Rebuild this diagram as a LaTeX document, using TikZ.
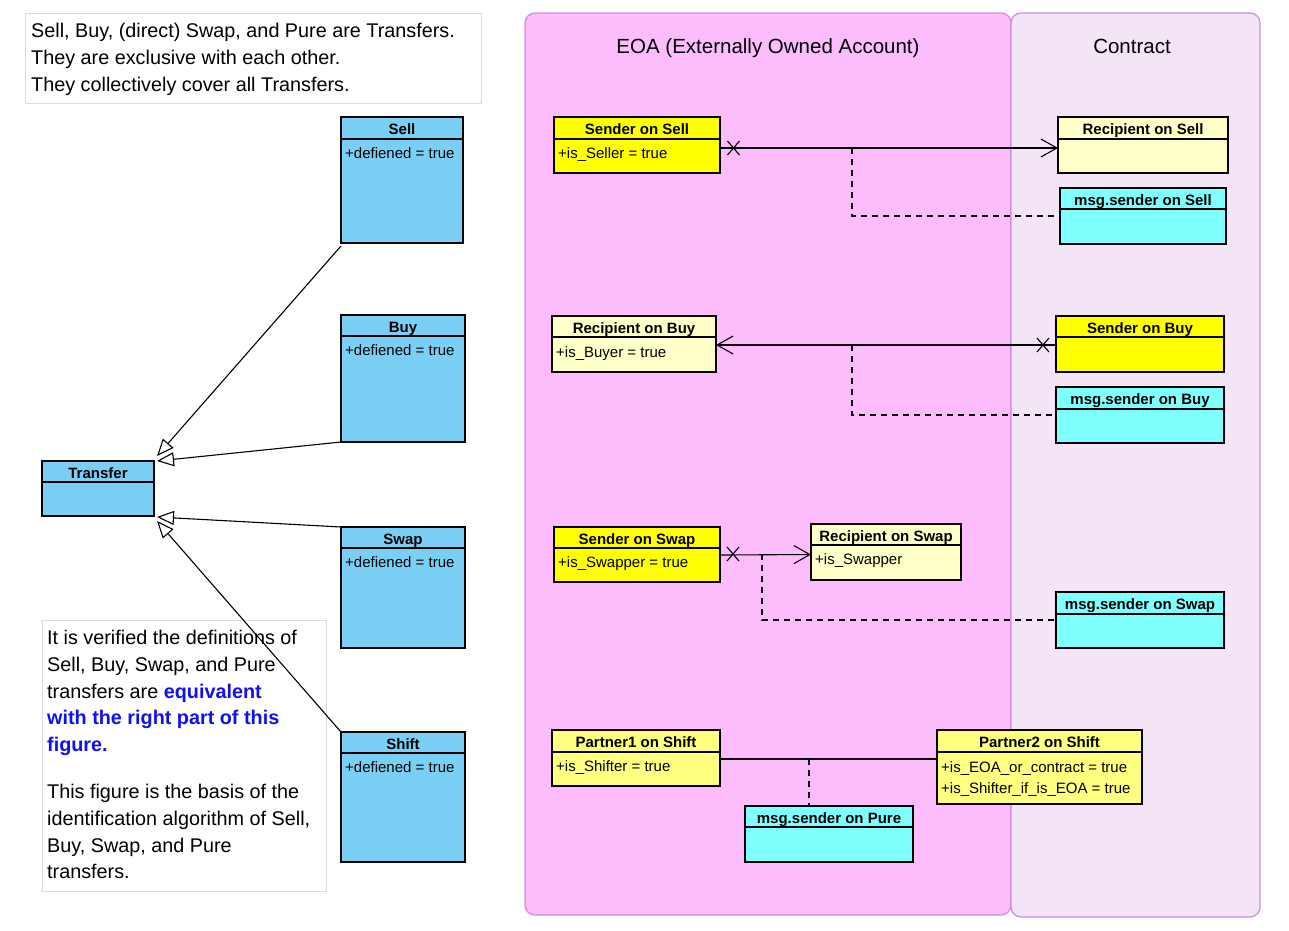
\documentclass[tikz,border=0pt]{standalone}
\usepackage{fontspec}
\setmainfont{Liberation Sans}
\usetikzlibrary{arrows.meta}
\definecolor{clsblue}{RGB}{122,207,245}
\definecolor{clsyel}{RGB}{255,255,0}
\definecolor{clsltyel}{RGB}{255,255,200}
\definecolor{clsmidyel}{RGB}{255,255,128}
\definecolor{clscyan}{RGB}{128,255,255}
\definecolor{eoafill}{RGB}{253,189,253}
\definecolor{confill}{RGB}{243,228,246}
\definecolor{lanedraw}{RGB}{204,140,222}
\definecolor{notegray}{RGB}{218,218,218}
\definecolor{bluetxt}{RGB}{16,16,240}
\tikzset{
  clsbox/.style={draw=black, line width=1.3pt, inner sep=0pt, outer sep=0pt},
  clsline/.style={line width=1.3pt},
  clstitle/.style={font=\fontsize{15}{18}\selectfont\bfseries, inner sep=0pt, anchor=base},
  clsattr/.style={font=\fontsize{15}{18}\selectfont, inner sep=0pt, anchor=base west},
  notebox/.style={draw=notegray, line width=1pt, fill=white},
  notetxt/.style={font=\fontsize{19.8}{24}\selectfont, inner sep=0pt, anchor=base west},
  notebold/.style={font=\fontsize{19.8}{24}\selectfont\bfseries, text=bluetxt},
  gen/.style={line width=1.1pt, -{Triangle[open, fill=white, length=17pt, width=14pt]}},
  assoc/.style={line width=1.1pt},
  navi/.style={-{Straight Barb[length=16pt, width=18pt]}},
  depline/.style={line width=1.1pt, dash pattern=on 6pt off 5pt},
  lane/.style={draw=lanedraw, line width=1.2pt, rounded corners=10pt},
  lanetitle/.style={font=\fontsize{20.5}{24}\selectfont, inner sep=0pt, anchor=base},
}
% name, x1, y1, x2, y2, header y, fill, title
\newcommand\umlcls[8]{%
  \node[clsbox, fill=#7, minimum width={(#4-#2)*1pt}, minimum height={(#5-#3)*1pt}, anchor=north west] (#1) at (#2,#3) {};
  \draw[clsline] (#2,#6) -- (#4,#6);
  \node[clstitle] (#1-t) at ({(#2+#4)/2},{(#3+#6)/2+6.5}) {#8};
}
\newcommand\xcross[1]{%
  \draw[assoc] ([shift={(-6,-7)}]#1) -- ([shift={(6,7)}]#1);
  \draw[assoc] ([shift={(-6,7)}]#1) -- ([shift={(6,-7)}]#1);
}
\begin{document}
\begin{tikzpicture}[x=1pt,y=-1pt]
\useasboundingbox (0,0) rectangle (1289,930);
\fill[white] (0,0) rectangle (1289,930);

% swimlanes
\draw[lane, fill=eoafill] (525,13) rectangle (1011,915);
\draw[lane, fill=confill] (1011,13) rectangle (1260,917);
\node[lanetitle] (eoatitle) at (768,53) {EOA (Externally Owned Account)};
\node[lanetitle] (contitle) at (1132,53) {Contract};

% top note
\draw[notebox] (25,13) rectangle (481,103);
\node[notetxt] (n1a) at (31,37) {Sell, Buy, (direct) Swap, and Pure are Transfers.};
\node[notetxt] (n1b) at (31,64) {They are exclusive with each other.};
\node[notetxt] (n1c) at (31,91) {They collectively cover all Transfers.};

% bottom note
\draw[notebox] (42,620) rectangle (326,891);
\node[notetxt] (n2a) at (47,644) {It is verified the definitions of};
\node[notetxt] (n2b) at (47,671) {Sell, Buy, Swap, and Pure};
\node[notetxt] (n2c) at (47,698) {transfers are \textcolor{bluetxt}{\bfseries equivalent}};
\node[notetxt, notebold] (n2d) at (47,724) {with the right part of this};
\node[notetxt, notebold] (n2e) at (47,751) {figure.};
\node[notetxt] (n2f) at (47,798) {This figure is the basis of the};
\node[notetxt] (n2g) at (47,825) {identification algorithm of Sell,};
\node[notetxt] (n2h) at (47,852) {Buy, Swap, and Pure};
\node[notetxt] (n2i) at (47,878) {transfers.};

% left classes
\umlcls{transfer}{42}{461}{154}{516}{482}{clsblue}{Transfer}
\umlcls{sell}{341}{117}{463}{243}{139}{clsblue}{Sell}
\node[clsattr] (sell-a) at (345,158) {+defiened = true};
\umlcls{buy}{341}{315}{465}{442}{336}{clsblue}{Buy}
\node[clsattr] (buy-a) at (345,355) {+defiened = true};
\umlcls{swap}{341}{527}{465}{648}{548}{clsblue}{Swap}
\node[clsattr] (swap-a) at (345,567) {+defiened = true};
\umlcls{shift}{341}{732}{465}{862}{753}{clsblue}{Shift}
\node[clsattr] (shift-a) at (345,772) {+defiened = true};

% generalization tips
\coordinate (t1) at (157,456);
\coordinate (t2) at (157,461);
\coordinate (t3) at (157,517);
\coordinate (t4) at (157,521);
\draw[gen] ([yshift=-3pt]sell.south west) -- (t1);
\draw[gen] (buy.south west) -- (t2);
\draw[gen] (swap.north west) -- (t3);
\draw[gen] (shift.north west) -- (t4);

% Sell row
\umlcls{sos}{554}{117}{720}{173}{139}{clsyel}{Sender on Sell}
\node[clsattr] (sos-a) at (558,158) {+is\_Seller = true};
\umlcls{ros}{1058}{117}{1228}{173}{139}{clsltyel}{Recipient on Sell}
\umlcls{mss}{1060}{188}{1226}{244}{209}{clscyan}{msg.sender on Sell}
\draw[assoc, navi] ([yshift=-3pt]sos.east) -- ([yshift=-3pt]ros.west);
\coordinate (sellx) at (733.5,148);
\xcross{sellx}
\coordinate (sellj) at (852,148);
\draw[depline] (sellj) |- (mss.west);

% Buy row
\umlcls{rob}{552}{316}{716}{372}{337}{clsltyel}{Recipient on Buy}
\node[clsattr] (rob-a) at (556,357) {+is\_Buyer = true};
\umlcls{sob}{1056}{316}{1224}{372}{337}{clsyel}{Sender on Buy}
\umlcls{msb}{1056}{387}{1224}{443}{409}{clscyan}{msg.sender on Buy}
\draw[assoc, navi] ([yshift=-1pt]sob.west) -- ([yshift=-1pt]rob.east);
\coordinate (buyx) at (1043,345);
\xcross{buyx}
\coordinate (buyj) at (852,345);
\draw[depline] (buyj) |- (msb.west);

% Swap row
\umlcls{sow}{554}{527}{720}{582}{548}{clsyel}{Sender on Swap}
\node[clsattr] (sow-a) at (558,567) {+is\_Swapper = true};
\umlcls{row}{811}{524}{961}{580}{545}{clsltyel}{Recipient on Swap}
\node[clsattr] (row-a) at (815,564) {+is\_Swapper};
\umlcls{msw}{1056}{592}{1224}{648}{614}{clscyan}{msg.sender on Swap}
\draw[assoc, navi] ([yshift=-0.5pt]sow.east) -- (sow.east -| row.west);
\coordinate (swapx) at (733,554);
\xcross{swapx}
\coordinate (swapj) at (762,554);
\draw[depline] (swapj) |- (msw.west);

% Shift row
\umlcls{pa}{552}{730}{720}{786}{752}{clsmidyel}{Partner1 on Shift}
\node[clsattr] (pa-a) at (556,771) {+is\_Shifter = true};
\umlcls{pb}{937}{730}{1142}{804}{752}{clsmidyel}{Partner2 on Shift}
\node[clsattr] (pb-a) at (941,772) {+is\_EOA\_or\_contract = true};
\node[clsattr] (pb-b) at (941,793) {+is\_Shifter\_if\_is\_EOA = true};
\umlcls{msp}{745}{806}{913}{862}{827}{clscyan}{msg.sender on Pure}
\draw[assoc] ([yshift=-1pt]pa.east) -- ([yshift=-1pt]pa.east -| pb.west);
\coordinate (shiftj) at (809,759);
\draw[depline] (shiftj) -- (shiftj |- msp.north);
\end{tikzpicture}
\end{document}
